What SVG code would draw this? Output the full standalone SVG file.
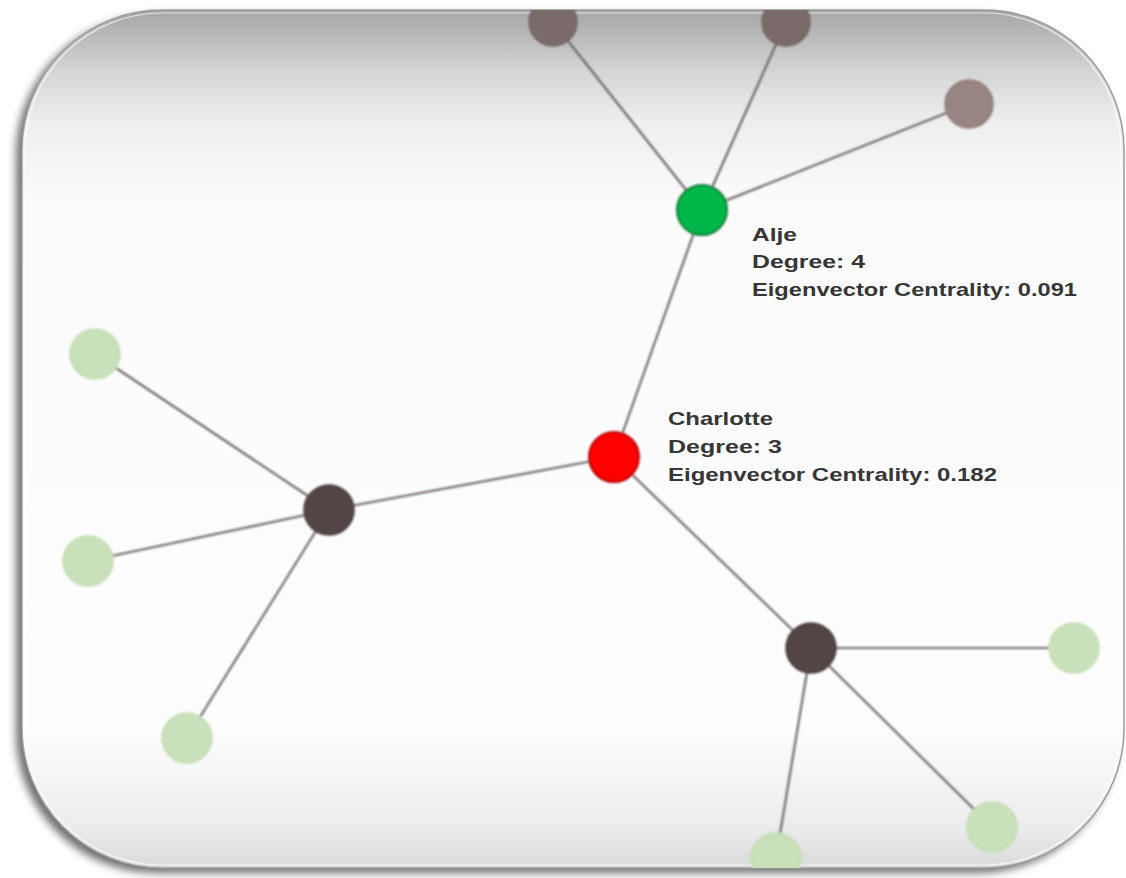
<svg xmlns="http://www.w3.org/2000/svg" width="1126" height="878" viewBox="0 0 1126 878">
  <style>
    .edge { stroke: #6e6868; stroke-width: 2.2; fill: none; }
    .hub { fill: #524444; stroke: #4a3d3d; stroke-width: 1.5; }
    .top { fill: #7a6a6a; stroke: #756565; stroke-width: 1.5; }
    .leaf { fill: #c9e1ba; stroke: #c3dcb3; stroke-width: 1.5; }
    .label { font-family: "Century Gothic", "URW Gothic", "Liberation Sans", sans-serif; font-size: 19px; fill: #363636; font-weight: bold; }
  </style>
  <defs>
    <linearGradient id="panelFill" x1="0" y1="0" x2="0" y2="1">
      <stop offset="0" stop-color="#a6a6a6"/>
      <stop offset="0.03" stop-color="#b9b9b9"/>
      <stop offset="0.07" stop-color="#d4d4d4"/>
      <stop offset="0.13" stop-color="#eeeeee"/>
      <stop offset="0.22" stop-color="#fbfbfb"/>
      <stop offset="0.84" stop-color="#fdfdfd"/>
      <stop offset="0.95" stop-color="#ececec"/>
      <stop offset="1" stop-color="#dadada"/>
    </linearGradient>
    <filter id="shadowBlur" x="-5%" y="-5%" width="110%" height="110%">
      <feGaussianBlur stdDeviation="4"/>
    </filter>
    <filter id="soft" x="-20%" y="-20%" width="140%" height="140%">
      <feGaussianBlur stdDeviation="0.8"/>
    </filter>
    <clipPath id="panelClip">
      <rect x="22" y="10" width="1102" height="858" rx="140" ry="140"/>
    </clipPath>
  </defs>

  <rect width="1126" height="878" fill="#ffffff"/>

  <!-- panel with drop shadow -->
  <g id="panel">
    <rect x="16" y="15" width="1102" height="858" rx="140" ry="140" fill="#6e6e6e" filter="url(#shadowBlur)"/>
    <rect x="22" y="10" width="1102" height="858" rx="140" ry="140" fill="url(#panelFill)" stroke="#9c9c9c" stroke-width="1.5"/>
    <rect x="25" y="13" width="1096" height="852" rx="137" ry="137" fill="none" stroke="#ffffff" stroke-width="1.2" opacity="0.7"/>
  </g>

  <g clip-path="url(#panelClip)" filter="url(#soft)">
    <g id="connectors">
      <line class="edge" x1="702" y1="210" x2="553" y2="22"/>
      <line class="edge" x1="702" y1="210" x2="786" y2="22"/>
      <line class="edge" x1="702" y1="210" x2="969" y2="104"/>
      <line class="edge" x1="702" y1="210" x2="614" y2="457"/>
      <line class="edge" x1="614" y1="457" x2="329" y2="510"/>
      <line class="edge" x1="614" y1="457" x2="811" y2="648"/>
      <line class="edge" x1="329" y1="510" x2="95" y2="354"/>
      <line class="edge" x1="329" y1="510" x2="88" y2="561"/>
      <line class="edge" x1="329" y1="510" x2="187" y2="738"/>
      <line class="edge" x1="811" y1="648" x2="1074" y2="648"/>
      <line class="edge" x1="811" y1="648" x2="992" y2="827"/>
      <line class="edge" x1="811" y1="648" x2="776" y2="858"/>
    </g>

    <g id="node-top-left"><circle class="top" cx="553" cy="22" r="24"/></g>
    <g id="node-top-mid"><circle class="top" cx="786" cy="22" r="24"/></g>
    <g id="node-top-right"><circle cx="969" cy="104" r="24" fill="#998484" stroke="#927d7d" stroke-width="1.5"/></g>
    <g id="node-alje"><circle cx="702" cy="210" r="25" fill="#00b84a" stroke="#0a7a35" stroke-width="2"/></g>
    <g id="node-charlotte"><circle cx="614" cy="457" r="25" fill="#ff0000" stroke="#b80000" stroke-width="2"/></g>
    <g id="node-hub-left"><circle class="hub" cx="329" cy="510" r="25"/></g>
    <g id="node-hub-right"><circle class="hub" cx="811" cy="648" r="25"/></g>
    <g id="node-leaf-1"><circle class="leaf" cx="95" cy="354" r="25"/></g>
    <g id="node-leaf-2"><circle class="leaf" cx="88" cy="561" r="25"/></g>
    <g id="node-leaf-3"><circle class="leaf" cx="187" cy="738" r="25"/></g>
    <g id="node-leaf-4"><circle class="leaf" cx="1074" cy="648" r="25"/></g>
    <g id="node-leaf-5"><circle class="leaf" cx="992" cy="827" r="25"/></g>
    <g id="node-leaf-6"><circle class="leaf" cx="776" cy="858" r="25"/></g>
  </g>

  <g id="label-alje" class="label">
    <text x="752" y="241" textLength="45" lengthAdjust="spacingAndGlyphs">Alje</text>
    <text x="752" y="268" textLength="113" lengthAdjust="spacingAndGlyphs">Degree: 4</text>
    <text x="752" y="296" textLength="325" lengthAdjust="spacingAndGlyphs">Eigenvector Centrality: 0.091</text>
  </g>
  <g id="label-charlotte" class="label">
    <text x="668" y="425" textLength="105" lengthAdjust="spacingAndGlyphs">Charlotte</text>
    <text x="668" y="453" textLength="114" lengthAdjust="spacingAndGlyphs">Degree: 3</text>
    <text x="668" y="481" textLength="329" lengthAdjust="spacingAndGlyphs">Eigenvector Centrality: 0.182</text>
  </g>
</svg>
